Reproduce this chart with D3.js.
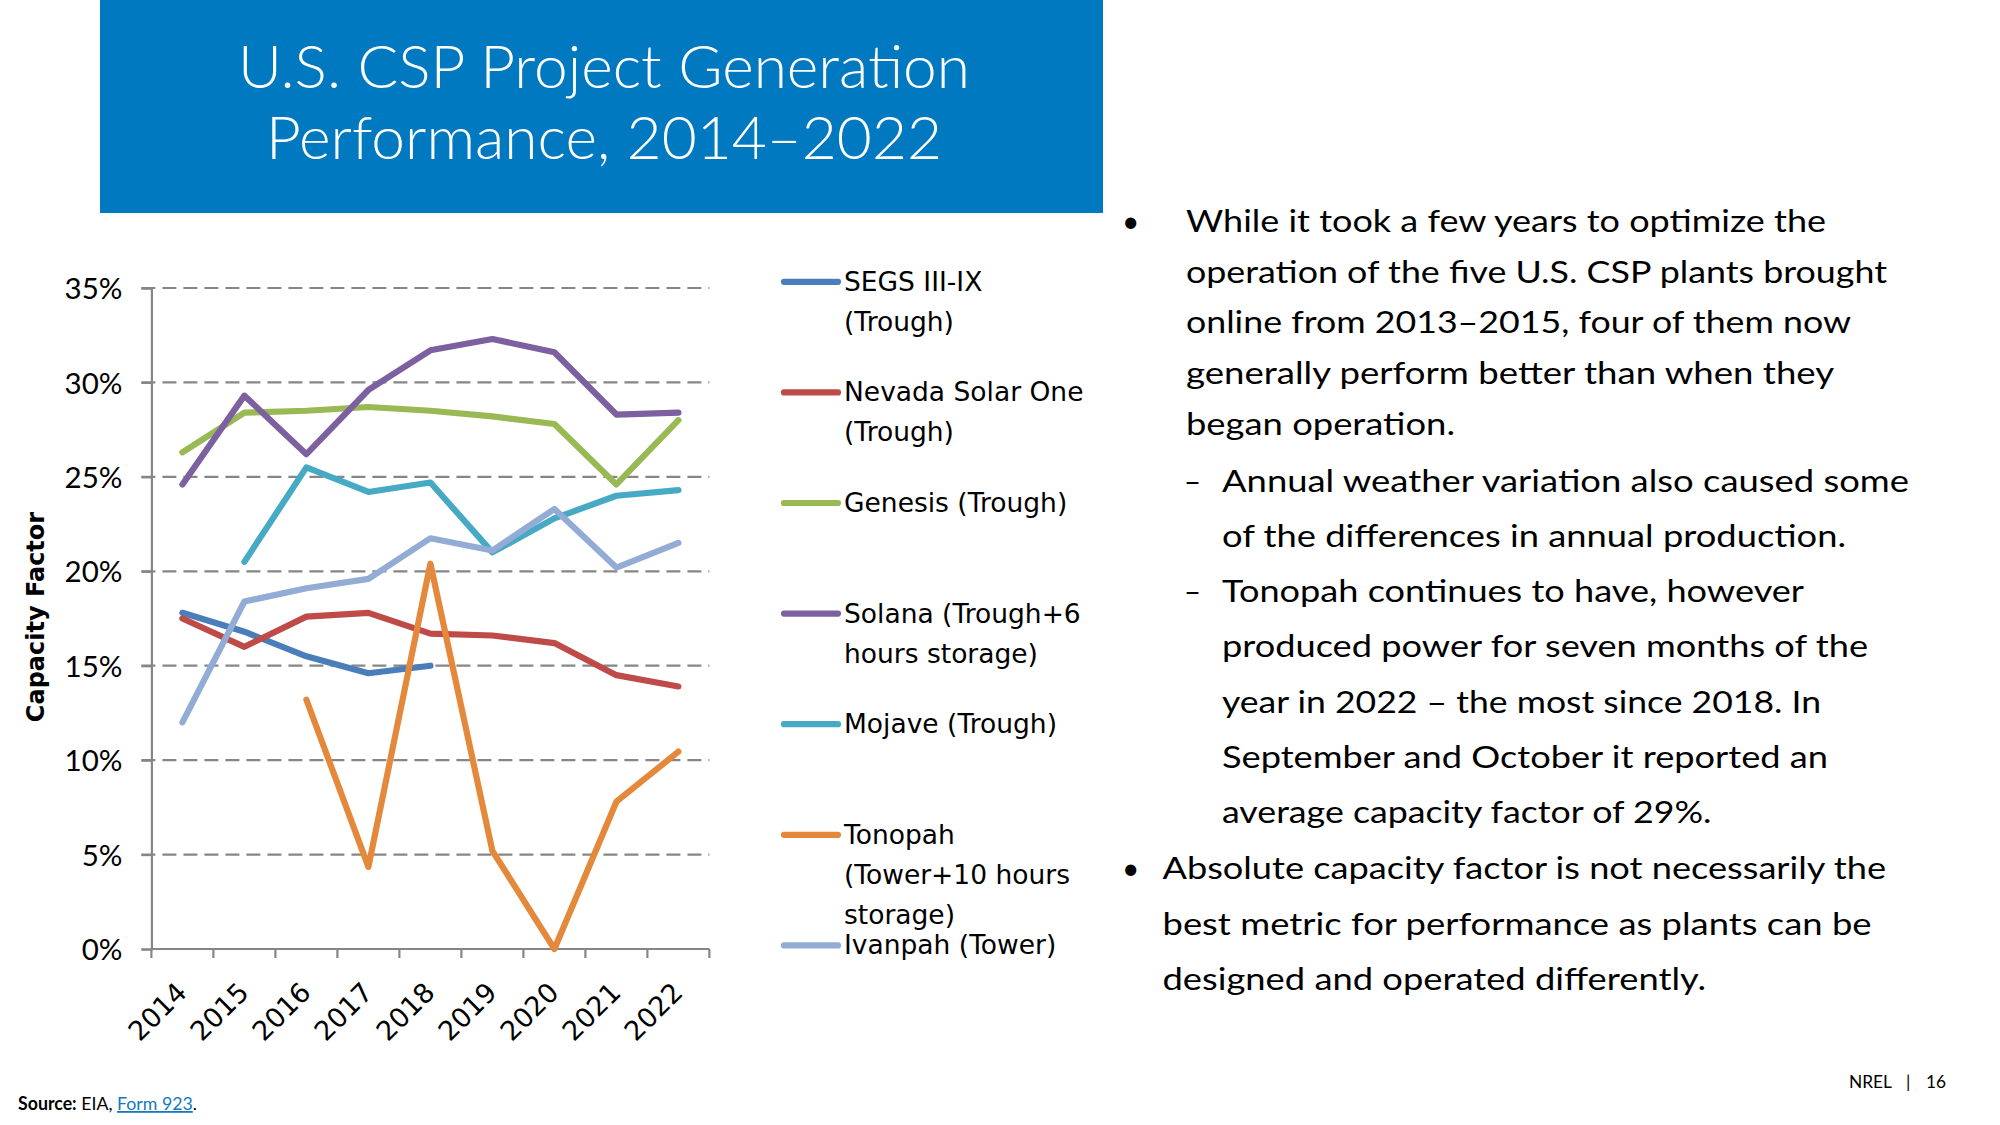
<!DOCTYPE html>
<html>
<head>
<meta charset="utf-8">
<script src="https://cdn.jsdelivr.net/npm/d3@7"></script>
<style>
  html, body { margin: 0; padding: 0; background: #ffffff; }
  svg { display: block; }
</style>
</head>
<body>
<svg id="chart" width="2000" height="1125"></svg>
<script>
// ---------------- DATA ----------------
const years = [2014, 2015, 2016, 2017, 2018, 2019, 2020, 2021, 2022];
const yTicks = [0, 5, 10, 15, 20, 25, 30, 35];

const segs    = [17.8, 16.8, 15.5, 14.6, 15.0, null, null, null, null];
const nevada  = [17.5, 16.0, 17.6, 17.8, 16.7, 16.6, 16.2, 14.5, 13.9];
const genesis = [26.3, 28.4, 28.5, 28.7, 28.5, 28.2, 27.8, 24.6, 28.0];
const solana  = [24.6, 29.3, 26.2, 29.6, 31.7, 32.3, 31.6, 28.3, 28.4];
const mojave  = [null, 20.5, 25.5, 24.2, 24.7, 21.0, 22.8, 24.0, 24.3];
const tonopah = [null, null, 13.2, 4.35, 20.4, 5.2, 0.0, 7.8, 10.45];
const ivanpah = [12.0, 18.4, 19.1, 19.6, 21.75, 21.1, 23.3, 20.2, 21.5];

const seriesNames = [
  "SEGS III-IX\n(Trough)",
  "Nevada Solar One\n(Trough)",
  "Genesis (Trough)",
  "Solana (Trough+6\nhours storage)",
  "Mojave (Trough)",
  "Tonopah\n(Tower+10 hours\nstorage)",
  "Ivanpah (Tower)"
];
const seriesValues = [segs, nevada, genesis, solana, mojave, tonopah, ivanpah];
const seriesColors = ["#4A7EBB", "#BE4B48", "#98B954", "#7D60A0", "#46AAC5", "#E4893B", "#93ACD5"];

const titleLines = ["U.S. CSP Project Generation", "Performance, 2014\u20132022"];
const bodyLines = [
  "While it took a few years to optimize the",
  "operation of the five U.S. CSP plants brought",
  "online from 2013\u20132015, four of them now",
  "generally perform better than when they",
  "began operation.",
  "Annual weather variation also caused some",
  "of the differences in annual production.",
  "Tonopah continues to have, however",
  "produced power for seven months of the",
  "year in 2022 \u2013 the most since 2018. In",
  "September and October it reported an",
  "average capacity factor of 29%.",
  "Absolute capacity factor is not necessarily the",
  "best metric for performance as plants can be",
  "designed and operated differently."
];
// marker type per line: "bullet", "dash" or "" (continuation)
const bodyMarkers = ["bullet","","","","","dash","","dash","","","","","bullet","",""];
const bodyLevels  = [1,1,1,1,1,2,2,2,2,2,2,2,0,0,0];

// ---------------- LAYOUT ----------------
const BODY_FONT = "Lato, 'Open Sans', sans-serif";
const LEGEND_FONT = "'DejaVu Sans', Verdana, sans-serif";
const bodyLayout = {
  x: [1162.5, 1186, 1222],          // text x per level
  widths: [640, 701, 665, 648, 269, 687, 624, 582, 646, 599, 606, 489.5, 723.5, 709, 543.5],
  baselines: [231.7, 282.5, 333.3, 384.1, 434.9, 491.5, 546.8, 602.1, 657.4, 712.7, 768, 823.3, 879, 934.5, 990]
};

const svg = d3.select("#chart");
svg.append("rect").attr("width", 2000).attr("height", 1125).attr("fill", "#ffffff");

// Title box
svg.append("rect").attr("x", 100).attr("y", 0).attr("width", 1003).attr("height", 213)
  .attr("fill", "#0079C1");
const titleLayout = [{b: 88, w: 732}, {b: 158.5, w: 676}];
svg.selectAll("text.title").data(titleLines).join("text")
  .attr("class", "title")
  .attr("x", 604).attr("y", (d, i) => titleLayout[i].b)
  .attr("text-anchor", "middle")
  .attr("textLength", (d, i) => titleLayout[i].w)
  .attr("lengthAdjust", "spacingAndGlyphs")
  .attr("font-family", BODY_FONT).attr("font-weight", 300).attr("font-size", 60)
  .attr("fill", "#ffffff")
  .text(d => d);

// ---------------- CHART ----------------
const plot = { left: 151.4, right: 709.4, top: 288, bottom: 949 };
const x = d3.scaleBand().domain(years).range([plot.left, plot.right]).padding(0);
const y = d3.scaleLinear().domain([0, 35]).range([plot.bottom, plot.top]);
const cx = yr => x(yr) + x.bandwidth() / 2;

const axisColor = "#868686";

// dashed gridlines
svg.append("g").selectAll("line").data(yTicks.filter(v => v > 0)).join("line")
  .attr("x1", plot.left - 10).attr("x2", plot.right)
  .attr("y1", d => y(d)).attr("y2", d => y(d))
  .attr("stroke", axisColor).attr("stroke-width", 2.2)
  .attr("stroke-dasharray", "14 7");

// Y axis
const yAxis = d3.axisLeft(y).tickValues(yTicks).tickSize(10).tickPadding(19)
  .tickFormat(d => d + "%");
const gy = svg.append("g").attr("transform", `translate(${plot.left},0)`).call(yAxis);
gy.select(".domain").attr("stroke", axisColor).attr("stroke-width", 2.2);
gy.selectAll(".tick line").attr("stroke", axisColor).attr("stroke-width", 2.2);
gy.selectAll(".tick text").attr("font-family", BODY_FONT).attr("font-size", 29.5)
  .attr("fill", "#000").attr("dy", "0.36em");

// X axis (ticks between categories)
const gx = svg.append("g").attr("transform", `translate(0,${plot.bottom})`);
gx.append("line").attr("x1", plot.left).attr("x2", plot.right).attr("y1", 0).attr("y2", 0)
  .attr("stroke", axisColor).attr("stroke-width", 2.2);
const tickPos = years.map(yr => x(yr)).concat([x(years[years.length - 1]) + x.bandwidth()]);
gx.selectAll("line.tk").data(tickPos).join("line").attr("class", "tk")
  .attr("x1", d => d).attr("x2", d => d).attr("y1", 0).attr("y2", 9)
  .attr("stroke", axisColor).attr("stroke-width", 2.2);
gx.selectAll("text").data(years).join("text")
  .attr("transform", d => `translate(${cx(d) + 6},45) rotate(-45)`)
  .attr("text-anchor", "end")
  .attr("font-family", LEGEND_FONT).attr("font-size", 27).attr("fill", "#000")
  .text(d => d);

// Y axis title
svg.append("text")
  .attr("transform", "translate(44,617) rotate(-90)")
  .attr("text-anchor", "middle")
  .attr("font-family", LEGEND_FONT).attr("font-weight", "bold").attr("font-size", 24)
  .attr("fill", "#000")
  .text("Capacity Factor");

// Lines
const line = d3.line()
  .defined(d => d.v !== null)
  .x(d => cx(d.year))
  .y(d => y(d.v));
svg.append("g").selectAll("path").data(seriesValues).join("path")
  .attr("d", vals => line(vals.map((v, i) => ({ year: years[i], v }))))
  .attr("fill", "none")
  .attr("stroke", (d, i) => seriesColors[i])
  .attr("stroke-width", 6.2)
  .attr("stroke-linejoin", "round")
  .attr("stroke-linecap", "round");

// Legend
const legendY0 = 281.8, legendStep = 110.6;
const lg = svg.append("g");
seriesNames.forEach((name, i) => {
  const ly = legendY0 + i * legendStep;
  lg.append("line").attr("x1", 784).attr("x2", 838).attr("y1", ly).attr("y2", ly)
    .attr("stroke", seriesColors[i]).attr("stroke-width", 6.2).attr("stroke-linecap", "round");
  const t = lg.append("text").attr("font-family", LEGEND_FONT).attr("font-size", 26.5)
    .attr("fill", "#000");
  name.split("\n").forEach((part, j) => {
    t.append("tspan").attr("x", 844).attr("y", ly + 9 + j * 40).text(part);
  });
});

// Body text
const body = svg.append("g").attr("font-family", BODY_FONT).attr("font-size", 30).attr("fill", "#000");
bodyLines.forEach((txt, i) => {
  const b = bodyLayout.baselines[i];
  const lx = bodyLayout.x[bodyLevels[i]];
  body.append("text").attr("x", lx).attr("y", b)
    .attr("textLength", bodyLayout.widths[i]).attr("lengthAdjust", "spacingAndGlyphs")
    .text(txt);
  if (bodyMarkers[i] === "bullet") {
    body.append("text").attr("x", 1122).attr("y", b).text("\u2022");
  } else if (bodyMarkers[i] === "dash") {
    body.append("text").attr("x", 1184).attr("y", b)
      .attr("textLength", 17).attr("lengthAdjust", "spacingAndGlyphs").text("\u2013");
  }
});

// Footer
const src = svg.append("text").attr("x", 18).attr("y", 1110)
  .attr("font-family", BODY_FONT).attr("font-size", 18).attr("fill", "#000")
  .attr("textLength", 179).attr("lengthAdjust", "spacingAndGlyphs");
src.append("tspan").attr("font-weight", "bold").text("Source:");
src.append("tspan").text(" EIA, ");
src.append("tspan").attr("fill", "#1479BE").attr("text-decoration", "underline").text("Form 923");
src.append("tspan").text(".");

const foot = svg.append("g").attr("font-family", BODY_FONT).attr("font-size", 17.5).attr("fill", "#000");
foot.append("text").attr("x", 1849).attr("y", 1088).attr("textLength", 43)
  .attr("lengthAdjust", "spacingAndGlyphs").text("NREL");
foot.append("text").attr("x", 1906).attr("y", 1088).text("|");
foot.append("text").attr("x", 1926).attr("y", 1088).attr("textLength", 20)
  .attr("lengthAdjust", "spacingAndGlyphs").text("16");
</script>
</body>
</html>
